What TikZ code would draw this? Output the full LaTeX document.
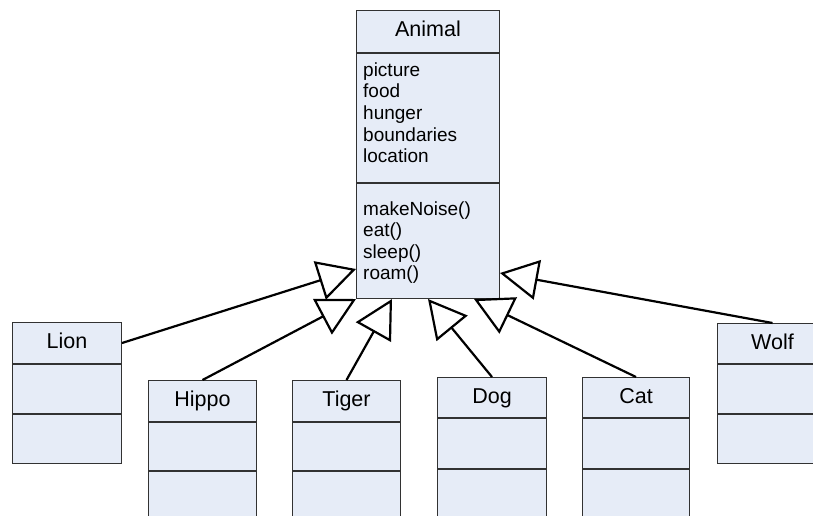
\documentclass[tikz,border=0pt]{standalone}
\usepackage{fontspec}
\setmainfont{Liberation Sans}
\usetikzlibrary{arrows.meta}
\definecolor{boxfill}{RGB}{230,236,247}
\definecolor{boxline}{RGB}{50,50,50}
\begin{document}
\begin{tikzpicture}[x=1pt,y=-1pt,
  cell/.style={draw=boxline, line width=1pt, fill=boxfill, rectangle, inner sep=0pt, anchor=north west},
  hdr/.style={cell, font=\fontsize{21.5}{24}\selectfont, text height=15pt, text depth=4pt},
  body/.style={inner sep=0pt, anchor=north west, align=left, font=\fontsize{19}{21.6}\selectfont},
  inherit/.style={line width=2.2pt, -{Triangle[open, length=38pt, width=40pt]}}]

\clip (0,0) rectangle (813,516);

% Animal
\node[hdr, minimum width=143pt, minimum height=42pt] (animal) at (356,10) {Animal};
\node[cell, minimum width=143pt, minimum height=129pt] (attrs) at (animal.south west) {};
\node[body] (attrtext) at (363,62.3) {picture\\food\\hunger\\boundaries\\location};
\node[cell, minimum width=143pt, minimum height=115pt] (methods) at (356,183) {};
\node[body] (methtext) at (363,201.2) {makeNoise()\\eat()\\sleep()\\roam()};

% Lion
\node[hdr, minimum width=109pt, minimum height=41pt] (lion) at (12,322) {Lion};
\node[cell, minimum width=109pt, minimum height=49pt] (lion1) at (lion.south west) {};
\node[cell, minimum width=109pt, minimum height=49pt] (lion2) at (lion1.south west) {};

% Hippo
\node[hdr, minimum width=108pt, minimum height=41pt] (hippo) at (148,380) {Hippo};
\node[cell, minimum width=108pt, minimum height=48pt] (hippo1) at (hippo.south west) {};
\node[cell, minimum width=108pt, minimum height=60pt] (hippo2) at (hippo1.south west) {};

% Tiger
\node[hdr, minimum width=108pt, minimum height=41pt] (tiger) at (292,380) {Tiger};
\node[cell, minimum width=108pt, minimum height=48pt] (tiger1) at (tiger.south west) {};
\node[cell, minimum width=108pt, minimum height=60pt] (tiger2) at (tiger1.south west) {};

% Dog
\node[hdr, minimum width=109pt, minimum height=40pt] (dog) at (437,377) {Dog};
\node[cell, minimum width=109pt, minimum height=50pt] (dog1) at (dog.south west) {};
\node[cell, minimum width=109pt, minimum height=60pt] (dog2) at (dog1.south west) {};

% Cat
\node[hdr, minimum width=107pt, minimum height=40pt] (cat) at (582,377) {Cat};
\node[cell, minimum width=107pt, minimum height=50pt] (cat1) at (cat.south west) {};
\node[cell, minimum width=107pt, minimum height=60pt] (cat2) at (cat1.south west) {};

% Wolf
\node[hdr, minimum width=110pt, minimum height=40pt] (wolf) at (717,323) {Wolf};
\node[cell, minimum width=110pt, minimum height=49pt] (wolf1) at (wolf.south west) {};
\node[cell, minimum width=110pt, minimum height=49pt] (wolf2) at (wolf1.south west) {};

% Inheritance arrows
\draw[inherit] (lion.east) -- ([yshift=30pt]methods.south west);
\draw[inherit] (hippo.north) -- (methods.south west);
\draw[inherit] (tiger.north) -- ([xshift=36pt]methods.south west);
\draw[inherit] (dog.north) -- (methods.south);
\draw[inherit] (cat.north) -- ([xshift=-26pt]methods.south east);
\draw[inherit] (wolf.north) -- ([yshift=26pt]methods.south east);
\end{tikzpicture}
\end{document}
